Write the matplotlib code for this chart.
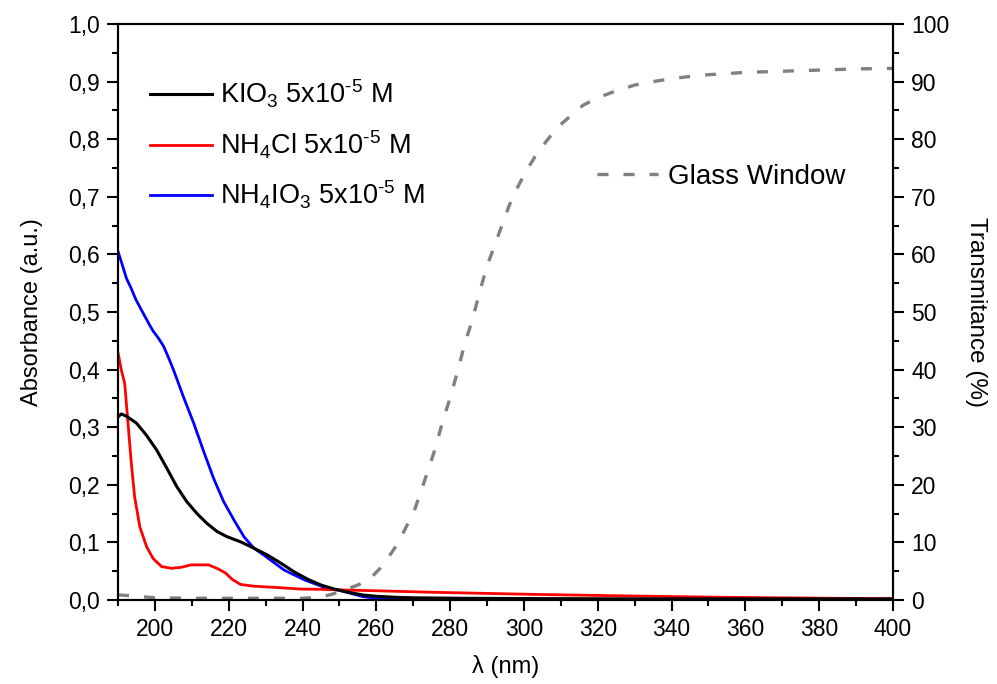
import matplotlib
matplotlib.use("Agg")
import matplotlib.pyplot as plt
from matplotlib.ticker import MultipleLocator, FixedLocator

plt.rcParams['font.family'] = ['Liberation Sans', 'DejaVu Sans']
plt.rcParams['mathtext.fontset'] = 'custom'
plt.rcParams['mathtext.rm'] = 'Liberation Sans'
plt.rcParams['mathtext.it'] = 'Liberation Sans'
plt.rcParams['mathtext.default'] = 'regular'

# ---- data ----
wl_kio3 = [190, 190.9, 192.3, 195, 197.7, 200.5, 203.2, 205.9, 208.6, 211.4, 214.1, 216.8,
           219.5, 223.2, 226.8, 230.5, 234.1, 237.7, 241.4, 245, 248.6, 252.7, 256.4, 260,
           265.6, 270, 283.5, 300, 330, 360, 400]
abs_kio3 = [0.318, 0.323, 0.319, 0.307, 0.286, 0.26, 0.229, 0.197, 0.171, 0.15, 0.133, 0.119,
            0.11, 0.101, 0.09, 0.078, 0.064, 0.049, 0.036, 0.026, 0.019, 0.013, 0.0087, 0.0065,
            0.0046, 0.0038, 0.003, 0.0025, 0.002, 0.002, 0.0018]

wl_nh4cl = [190, 190.9, 191.8, 192.7, 193.6, 194.5, 195.9, 197.7, 199.5, 201.8, 204.5, 207.3,
            209.8, 212.3, 214.5, 216.8, 219.1, 220.9, 223.2, 226.8, 232.3, 239.5, 245, 250.2,
            260, 274.6, 301.6, 328.7, 355.8, 385.5, 400]
abs_nh4cl = [0.429, 0.399, 0.376, 0.307, 0.237, 0.179, 0.127, 0.093, 0.072, 0.058, 0.055, 0.057,
             0.061, 0.061, 0.061, 0.055, 0.047, 0.036, 0.027, 0.024, 0.022, 0.019, 0.0185, 0.0175,
             0.016, 0.0135, 0.0099, 0.007, 0.0046, 0.0029, 0.0025]

wl_nh4io3 = [190, 191, 192.3, 193.5, 194.8, 196.8, 198.5, 199.5, 200.9, 202.3, 203.6, 205,
             207.7, 210.5, 213.2, 215.9, 218.6, 221.4, 224.1, 226.8, 229.5, 235, 240.5, 245.9,
             250.5, 256.4, 260, 265.6, 270, 280, 300, 350, 400]
abs_nh4io3 = [0.605, 0.585, 0.558, 0.542, 0.522, 0.498, 0.478, 0.467, 0.455, 0.441, 0.422, 0.400,
              0.353, 0.307, 0.258, 0.211, 0.171, 0.139, 0.11, 0.09, 0.078, 0.052, 0.035, 0.022,
              0.016, 0.0058, 0.003, 0.0012, 0.001, 0.0008, 0.0008, 0.0008, 0.0008]

wl_glass = [190, 200, 210, 220, 230, 240, 245, 248, 252, 255, 258, 261, 264, 266, 268, 270,
            272, 274, 276, 278, 280, 282, 284, 286, 288, 290, 292, 294, 296, 298, 300, 303,
            306, 309, 312, 316, 320, 325, 330, 335, 340, 345, 350, 360, 370, 380, 390, 400]
trans_glass = [0.9, 0.4, 0.3, 0.3, 0.3, 0.3, 0.5, 1.0, 1.9, 2.6, 3.5, 5.5, 8.1, 10.0, 12.6, 15.0,
               18.7, 22.5, 26.4, 31.1, 35.1, 39.7, 44.6, 48.6, 53.5, 58.0, 61.5, 65.0, 68.5, 71.3,
               73.8, 77.0, 79.6, 82.0, 83.7, 85.9, 87.2, 88.4, 89.4, 90.0, 90.5, 90.9, 91.2, 91.6,
               91.8, 92.0, 92.2, 92.3]

labels = [r"KIO$_3$ 5x10$^{\text{-}5}$ M", r"NH$_4$Cl 5x10$^{\text{-}5}$ M",
          r"NH$_4$IO$_3$ 5x10$^{\text{-}5}$ M"]
glass_label = "Glass Window"

xticks = [200, 220, 240, 260, 280, 300, 320, 340, 360, 380, 400]
yticks = [0.0, 0.1, 0.2, 0.3, 0.4, 0.5, 0.6, 0.7, 0.8, 0.9, 1.0]
yticklabels = ["0,0", "0,1", "0,2", "0,3", "0,4", "0,5", "0,6", "0,7", "0,8", "0,9", "1,0"]
y2ticks = [0, 10, 20, 30, 40, 50, 60, 70, 80, 90, 100]

# ---- figure ----
fig = plt.figure(figsize=(9.97, 6.84), dpi=100)
ax = fig.add_axes([0.1184, 0.1228, 0.8957 - 0.1184, 0.9649 - 0.1228])
ax2 = ax.twinx()
ax.set_zorder(ax2.get_zorder() + 1)
ax.patch.set_visible(False)

lb, = ax.plot(wl_nh4io3, abs_nh4io3, color='#0000ff', lw=2.0)
lr, = ax.plot(wl_nh4cl, abs_nh4cl, color='#ff0000', lw=2.0)
lk, = ax.plot(wl_kio3, abs_kio3, color='#000000', lw=2.2)

lg, = ax2.plot(wl_glass, trans_glass, color='#808080', lw=2.4, linestyle=(0, (3.3, 4.5)))

ax.set_xlim(190, 400)
ax.set_ylim(0, 1.0)
ax2.set_ylim(0, 100)

ax.xaxis.set_major_locator(FixedLocator(xticks))
ax.xaxis.set_minor_locator(MultipleLocator(10))
ax.yaxis.set_major_locator(FixedLocator(yticks))
ax.set_yticklabels(yticklabels)
ax.yaxis.set_minor_locator(MultipleLocator(0.05))
ax2.yaxis.set_major_locator(FixedLocator(y2ticks))
ax2.yaxis.set_minor_locator(MultipleLocator(5))

for a in (ax, ax2):
    for s in a.spines.values():
        s.set_linewidth(1.5)

ax.tick_params(axis='both', which='major', direction='out', length=8, width=1.5,
               labelsize=16.5, pad=5, top=False, right=False)
ax.tick_params(axis='both', which='minor', direction='out', length=4, width=1.5,
               top=False, right=False)
ax2.tick_params(axis='y', which='major', direction='out', length=8, width=1.5,
                labelsize=16.5, pad=5)
ax2.tick_params(axis='y', which='minor', direction='out', length=4, width=1.5)

ax.set_xlabel("λ (nm)", fontsize=17, labelpad=10)
ax.set_ylabel("Absorbance (a.u.)", fontsize=17, labelpad=18)
ax2.set_ylabel("Transmitance (%)", fontsize=17.5, rotation=-90, labelpad=27)

leg1 = ax.legend([lk, lr, lb], labels, loc='upper left', bbox_to_anchor=(0.027, 0.925),
                 frameon=False, fontsize=19.5, handlelength=2.3, handletextpad=0.3,
                 labelspacing=0.66, borderaxespad=0)
leg2 = ax2.legend([lg], [glass_label], loc='upper left', bbox_to_anchor=(0.604, 0.776),
                  frameon=False, fontsize=20, handlelength=2.2, handletextpad=0.35,
                  borderaxespad=0)

fig.savefig("out.png", dpi=100)
